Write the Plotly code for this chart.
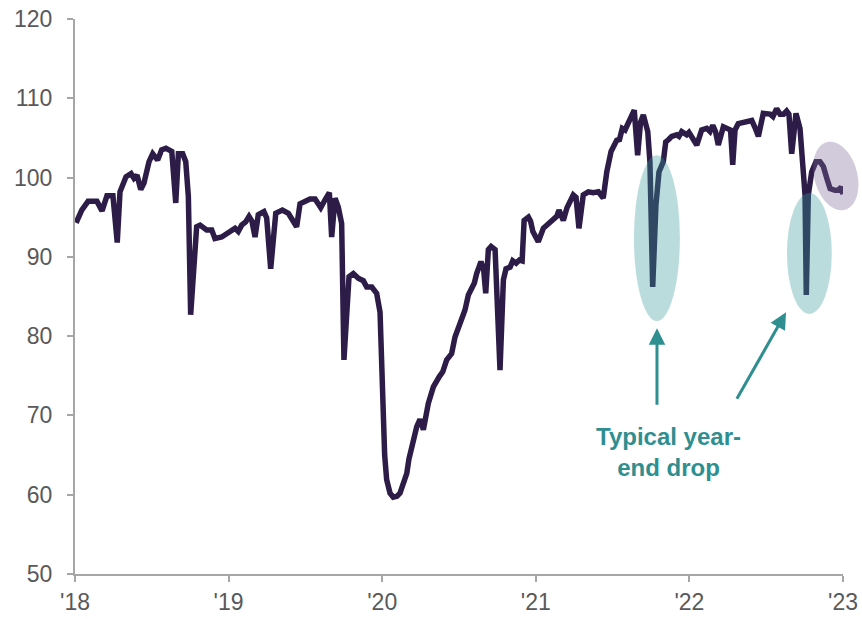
import math
import plotly.graph_objects as go

# ---- data (time in decimal years) ----
t = [2018.007, 2018.044, 2018.085, 2018.143, 2018.176, 2018.208, 2018.247, 2018.275, 2018.293, 2018.332,
     2018.365, 2018.384, 2018.404, 2018.428, 2018.449, 2018.482, 2018.506, 2018.538, 2018.564, 2018.592,
     2018.630, 2018.656, 2018.673, 2018.701, 2018.721, 2018.738, 2018.753, 2018.792, 2018.814, 2018.857,
     2018.890, 2018.911, 2018.955, 2018.998,
     2019.042, 2019.063, 2019.085, 2019.111, 2019.133, 2019.152, 2019.172, 2019.193, 2019.230, 2019.248,
     2019.274, 2019.307, 2019.350, 2019.389, 2019.421, 2019.443, 2019.465, 2019.486, 2019.530, 2019.563,
     2019.600, 2019.628, 2019.656, 2019.671, 2019.693, 2019.714, 2019.736, 2019.751, 2019.784, 2019.812,
     2019.844, 2019.877, 2019.899, 2019.932, 2019.964, 2019.986,
     2020.003, 2020.016, 2020.029, 2020.051, 2020.072, 2020.096, 2020.116, 2020.137, 2020.160, 2020.174,
     2020.192, 2020.225, 2020.246, 2020.268, 2020.300, 2020.333, 2020.372, 2020.394, 2020.420, 2020.452,
     2020.474, 2020.507, 2020.539, 2020.561, 2020.600, 2020.615, 2020.643, 2020.660, 2020.674, 2020.691,
     2020.709, 2020.735, 2020.767, 2020.789, 2020.806, 2020.833, 2020.850, 2020.872, 2020.893, 2020.911,
     2020.924, 2020.952, 2020.966, 2020.981, 2020.999,
     2021.016, 2021.049, 2021.092, 2021.136, 2021.151, 2021.179, 2021.203, 2021.223, 2021.244, 2021.262,
     2021.281, 2021.309, 2021.342, 2021.374, 2021.407, 2021.439, 2021.462, 2021.490, 2021.527, 2021.545,
     2021.563, 2021.581, 2021.598, 2021.620, 2021.641, 2021.663, 2021.682, 2021.700, 2021.729, 2021.743,
     2021.761, 2021.782, 2021.802, 2021.830, 2021.846, 2021.865, 2021.885, 2021.917, 2021.932, 2021.950,
     2021.982, 2021.997,
     2022.025, 2022.048, 2022.080, 2022.113, 2022.134, 2022.152, 2022.170, 2022.188, 2022.221, 2022.245,
     2022.268, 2022.282, 2022.297, 2022.318, 2022.362, 2022.406, 2022.427, 2022.449, 2022.481, 2022.525,
     2022.544, 2022.568, 2022.590, 2022.613, 2022.633, 2022.648, 2022.666, 2022.681, 2022.694, 2022.720,
     2022.740, 2022.753, 2022.761, 2022.774, 2022.796, 2022.824, 2022.850, 2022.872, 2022.898, 2022.916,
     2022.948, 2022.970, 2022.988, 2022.999]
v = [94.3, 95.9, 97.0, 97.0, 95.8, 97.7, 97.7, 91.8, 98.2, 100.1,
     100.5, 99.9, 100.3, 98.5, 99.3, 102.0, 103.0, 102.2, 103.5, 103.7,
     103.3, 96.8, 103.0, 103.0, 102.0, 97.6, 82.7, 93.8, 94.0, 93.4,
     93.4, 92.3, 92.5, 93.0,
     93.6, 93.2, 94.0, 94.4, 95.1, 94.5, 92.5, 95.3, 95.7, 94.9,
     88.5, 95.5, 95.9, 95.5, 94.4, 93.8, 96.7, 96.9, 97.3, 97.3,
     96.2, 97.2, 98.1, 92.5, 97.4, 96.3, 94.2, 77.0, 87.5, 87.9,
     87.3, 87.0, 86.2, 86.2, 85.4, 83.0,
     72.0, 65.0, 61.9, 60.2, 59.7, 59.8, 60.2, 61.3, 62.7, 64.5,
     66.1, 68.6, 69.5, 68.2, 71.5, 73.6, 74.9, 75.5, 77.0, 77.8,
     79.9, 81.6, 83.3, 85.2, 86.7, 87.9, 89.4, 88.5, 85.4, 90.9,
     91.3, 90.9, 75.7, 87.1, 88.5, 88.7, 89.5, 89.2, 89.6, 89.5,
     94.6, 95.0, 94.5, 93.2, 92.5,
     91.9, 93.6, 94.4, 95.1, 95.9, 94.6, 96.2, 97.0, 97.8, 97.5,
     93.6, 97.8, 98.2, 98.1, 98.2, 97.4, 100.7, 103.3, 104.7, 104.8,
     106.2, 106.0, 106.8, 107.5, 108.5, 102.8, 107.0, 107.9, 105.8, 102.0,
     86.2, 96.5, 100.7, 102.0, 104.5, 104.8, 105.2, 105.4, 105.2, 105.8,
     105.4, 105.7,
     104.7, 104.1, 106.0, 106.2, 105.8, 106.6, 105.8, 104.1, 106.4, 106.2,
     106.0, 101.6, 106.0, 106.8, 107.0, 107.2, 106.3, 105.2, 108.1, 108.0,
     107.7, 108.7, 108.0, 108.0, 108.4, 108.0, 103.0, 107.0, 108.1, 106.2,
     101.5, 97.8, 85.2, 97.8, 100.7, 102.0, 102.0, 101.4, 99.7, 98.6,
     98.4, 98.4, 98.8, 97.9]

year_ticks = [2018, 2019, 2020, 2021, 2022, 2023]
year_labels = ["'18", "'19", "'20", "'21", "'22", "'23"]
y_ticks = [50, 60, 70, 80, 90, 100, 110, 120]

X_RANGE = [2018, 2023]
Y_RANGE = [50, 120]

LINE = "#2d1c48"
TEAL = "#3a9a9c"
TEXT_TEAL = "#2f8f90"
PURPLE = "#7b6a99"
AXIS = "#a6a6a6"
LABEL = "#595959"
FONT = "Liberation Sans, Arial, sans-serif"

fig = go.Figure()
fig.add_trace(go.Scatter(x=t, y=v, mode="lines",
                         line=dict(color=LINE, width=5.5), hoverinfo="skip"))

# teal ellipses around the year-end drops
fig.add_shape(type="circle", xref="x", yref="y", x0=2021.639, x1=2021.938, y0=81.9, y1=102.8,
              fillcolor=TEAL, opacity=0.35, line=dict(width=0), layer="above")
fig.add_shape(type="circle", xref="x", yref="y", x0=2022.635, x1=2022.927, y0=82.8, y1=98.05,
              fillcolor=TEAL, opacity=0.35, line=dict(width=0), layer="above")

# rotated purple ellipse (in paper coords so it may extend past the plot edge)
plot_w, plot_h = 768.0, 555.0
cx, cy = 2022.953, 100.2
pcx = (cx - X_RANGE[0]) / (X_RANGE[1] - X_RANGE[0])
pcy = (cy - Y_RANGE[0]) / (Y_RANGE[1] - Y_RANGE[0])
a_px, b_px, theta = 35.0, 21.5, math.radians(-15.0)
pts = []
for k in range(73):
    s = 2 * math.pi * k / 72
    ux = b_px * math.cos(s)
    uy = a_px * math.sin(s)
    dx = ux * math.cos(theta) + uy * math.sin(theta)
    dy = -ux * math.sin(theta) + uy * math.cos(theta)
    pts.append((pcx + dx / plot_w, pcy + dy / plot_h))
path = "M " + " L ".join(f"{x:.5f},{y:.5f}" for x, y in pts) + " Z"
fig.add_shape(type="path", xref="paper", yref="paper", path=path,
              fillcolor=PURPLE, opacity=0.35, line=dict(width=0), layer="above")

# arrows
fig.add_annotation(x=2021.789, y=81.0, xref="x", yref="y", ax=0, ay=78, text="",
                   showarrow=True, arrowhead=2, arrowsize=1.1, arrowwidth=3, arrowcolor=TEXT_TEAL)
fig.add_annotation(x=2022.629, y=83.0, xref="x", yref="y", ax=-50, ay=88, text="",
                   showarrow=True, arrowhead=2, arrowsize=1.1, arrowwidth=3, arrowcolor=TEXT_TEAL)
fig.add_annotation(x=2021.867, y=65.4, xref="x", yref="y", showarrow=False,
                   text="<b>Typical year-<br>end drop</b>", align="center",
                   font=dict(family=FONT, size=24, color=TEXT_TEAL))

fig.update_layout(
    width=862, height=619,
    margin=dict(l=75, r=19, t=19, b=45, autoexpand=False),
    paper_bgcolor="white", plot_bgcolor="white",
    showlegend=False,
    font=dict(family=FONT, size=23, color=LABEL),
)
fig.update_xaxes(range=X_RANGE, tickvals=year_ticks, ticktext=year_labels, automargin=False,
                 showgrid=False, zeroline=False, showline=True, linecolor=AXIS, linewidth=2,
                 ticks="outside", ticklen=6, tickwidth=1.5, tickcolor=AXIS,
                 tickfont=dict(size=23, color=LABEL))
fig.update_yaxes(range=Y_RANGE, tickvals=y_ticks, automargin=False,
                 showgrid=False, zeroline=False, showline=True, linecolor=AXIS, linewidth=2,
                 ticks="outside", ticklen=6, tickwidth=1.5, tickcolor=AXIS,
                 ticklabelstandoff=10,
                 tickfont=dict(size=23, color=LABEL))

fig.write_html("out.html")
